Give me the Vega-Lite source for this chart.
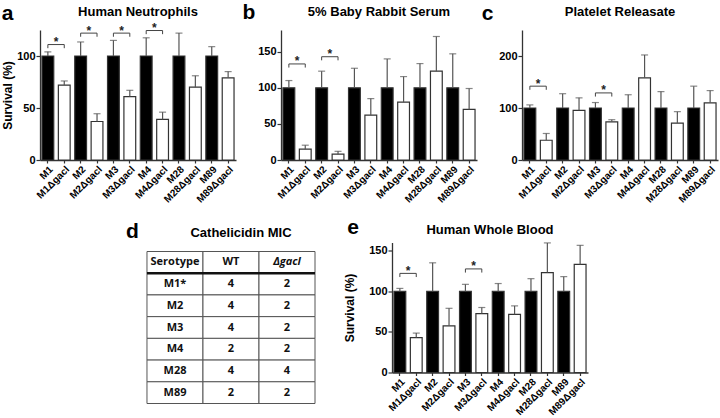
{
  "$schema": "https://vega.github.io/schema/vega-lite/v6.json",
  "background": "white",
  "padding": {"left": 1, "top": 1, "right": 2, "bottom": 2},
  "spacing": 10.5,
  "config": {
    "font": "Liberation Sans",
    "view": {"stroke": null},
    "axis": {"domainColor": "#333", "tickColor": "#333", "labelColor": "#000", "labelFont": "Liberation Sans", "labelFontWeight": "bold", "grid": false, "titleFont": "Liberation Sans", "titleFontWeight": "bold", "titleColor": "#000", "domainWidth": 1.3, "tickWidth": 1.2},
    "axisY": {"labelFontSize": 11, "tickSize": 4, "labelPadding": 1, "titleFontSize": 12, "titlePadding": 2},
    "axisX": {"labelFontSize": 10, "labelAngle": -45, "tickSize": 3, "labelPadding": 1, "titleFontSize": 21, "titleAngle": 0, "titleBaseline": "middle", "titleAlign": "center"},
    "title": {"font": "Liberation Sans", "fontSize": 13, "fontWeight": "bold", "color": "#000", "frame": "group", "anchor": "middle", "baseline": "middle"}
  },
  "datasets": {
    "a": [
      {"strain": "M1", "group": "WT", "mean": 100, "upper": 104},
      {"strain": "M1Δgacl", "group": "gacl", "mean": 72, "upper": 76},
      {"strain": "M2", "group": "WT", "mean": 100, "upper": 113.5},
      {"strain": "M2Δgacl", "group": "gacl", "mean": 37, "upper": 44.5},
      {"strain": "M3", "group": "WT", "mean": 100, "upper": 115},
      {"strain": "M3Δgacl", "group": "gacl", "mean": 61, "upper": 67},
      {"strain": "M4", "group": "WT", "mean": 100, "upper": 117.5},
      {"strain": "M4Δgacl", "group": "gacl", "mean": 39, "upper": 46},
      {"strain": "M28", "group": "WT", "mean": 100, "upper": 122},
      {"strain": "M28Δgacl", "group": "gacl", "mean": 70, "upper": 81},
      {"strain": "M89", "group": "WT", "mean": 100, "upper": 109},
      {"strain": "M89Δgacl", "group": "gacl", "mean": 79, "upper": 85}
    ],
    "b": [
      {"strain": "M1", "group": "WT", "mean": 100, "upper": 110},
      {"strain": "M1Δgacl", "group": "gacl", "mean": 15, "upper": 20.5},
      {"strain": "M2", "group": "WT", "mean": 100, "upper": 123},
      {"strain": "M2Δgacl", "group": "gacl", "mean": 8, "upper": 12},
      {"strain": "M3", "group": "WT", "mean": 100, "upper": 127},
      {"strain": "M3Δgacl", "group": "gacl", "mean": 62, "upper": 85},
      {"strain": "M4", "group": "WT", "mean": 100, "upper": 140},
      {"strain": "M4Δgacl", "group": "gacl", "mean": 80, "upper": 115.5},
      {"strain": "M28", "group": "WT", "mean": 100, "upper": 133.5},
      {"strain": "M28Δgacl", "group": "gacl", "mean": 123, "upper": 171},
      {"strain": "M89", "group": "WT", "mean": 100, "upper": 147},
      {"strain": "M89Δgacl", "group": "gacl", "mean": 70, "upper": 99}
    ],
    "c": [
      {"strain": "M1", "group": "WT", "mean": 100, "upper": 106},
      {"strain": "M1Δgacl", "group": "gacl", "mean": 38, "upper": 51},
      {"strain": "M2", "group": "WT", "mean": 100, "upper": 127.5},
      {"strain": "M2Δgacl", "group": "gacl", "mean": 95.5, "upper": 119.5},
      {"strain": "M3", "group": "WT", "mean": 100, "upper": 110.5},
      {"strain": "M3Δgacl", "group": "gacl", "mean": 73.5, "upper": 77.5},
      {"strain": "M4", "group": "WT", "mean": 100, "upper": 125.5},
      {"strain": "M4Δgacl", "group": "gacl", "mean": 158, "upper": 202},
      {"strain": "M28", "group": "WT", "mean": 100, "upper": 131.5},
      {"strain": "M28Δgacl", "group": "gacl", "mean": 71, "upper": 93},
      {"strain": "M89", "group": "WT", "mean": 100, "upper": 142},
      {"strain": "M89Δgacl", "group": "gacl", "mean": 110, "upper": 133.5}
    ],
    "e": [
      {"strain": "M1", "group": "WT", "mean": 100, "upper": 103.5},
      {"strain": "M1Δgacl", "group": "gacl", "mean": 43, "upper": 48.5},
      {"strain": "M2", "group": "WT", "mean": 100, "upper": 135},
      {"strain": "M2Δgacl", "group": "gacl", "mean": 57.5, "upper": 79},
      {"strain": "M3", "group": "WT", "mean": 100, "upper": 108.5},
      {"strain": "M3Δgacl", "group": "gacl", "mean": 72.5, "upper": 80},
      {"strain": "M4", "group": "WT", "mean": 100, "upper": 109.5},
      {"strain": "M4Δgacl", "group": "gacl", "mean": 71.5, "upper": 82},
      {"strain": "M28", "group": "WT", "mean": 100, "upper": 115.5},
      {"strain": "M28Δgacl", "group": "gacl", "mean": 123, "upper": 159.5},
      {"strain": "M89", "group": "WT", "mean": 100, "upper": 118},
      {"strain": "M89Δgacl", "group": "gacl", "mean": 133, "upper": 156.5}
    ],
    "sa": [
      {"from": "M1", "to": "M1Δgacl", "y": 111, "tick": 107.5},
      {"from": "M2", "to": "M2Δgacl", "y": 122, "tick": 118.5},
      {"from": "M3", "to": "M3Δgacl", "y": 122, "tick": 118.5},
      {"from": "M4", "to": "M4Δgacl", "y": 124.5, "tick": 121}
    ],
    "sb": [
      {"from": "M1", "to": "M1Δgacl", "y": 133, "tick": 128},
      {"from": "M2", "to": "M2Δgacl", "y": 143, "tick": 138}
    ],
    "sc": [
      {"from": "M1", "to": "M1Δgacl", "y": 142, "tick": 135},
      {"from": "M3", "to": "M3Δgacl", "y": 129, "tick": 122}
    ],
    "se": [
      {"from": "M1", "to": "M1Δgacl", "y": 122, "tick": 117.5},
      {"from": "M3", "to": "M3Δgacl", "y": 127.5, "tick": 123}
    ],
    "mic": [
      {"row": "Serotype", "col": "Serotype", "label": "Serotype"},
      {"row": "Serotype", "col": "WT", "label": "WT"},
      {"row": "Serotype", "col": "Δgacl", "label": "Δgacl"},
      {"row": "M1*", "col": "Serotype", "label": "M1*"},
      {"row": "M1*", "col": "WT", "label": "4"},
      {"row": "M1*", "col": "Δgacl", "label": "2"},
      {"row": "M2", "col": "Serotype", "label": "M2"},
      {"row": "M2", "col": "WT", "label": "4"},
      {"row": "M2", "col": "Δgacl", "label": "2"},
      {"row": "M3", "col": "Serotype", "label": "M3"},
      {"row": "M3", "col": "WT", "label": "4"},
      {"row": "M3", "col": "Δgacl", "label": "2"},
      {"row": "M4", "col": "Serotype", "label": "M4"},
      {"row": "M4", "col": "WT", "label": "2"},
      {"row": "M4", "col": "Δgacl", "label": "2"},
      {"row": "M28", "col": "Serotype", "label": "M28"},
      {"row": "M28", "col": "WT", "label": "4"},
      {"row": "M28", "col": "Δgacl", "label": "4"},
      {"row": "M89", "col": "Serotype", "label": "M89"},
      {"row": "M89", "col": "WT", "label": "2"},
      {"row": "M89", "col": "Δgacl", "label": "2"}
    ]
  },
  "vconcat": [
    {
      "bounds": "flush",
      "spacing": 45,
      "hconcat": [
        {
          "width": 196, "height": 130,
          "title": {"text": "Human Neutrophils", "offset": -16.5},
          "layer": [
            {"data": {"name": "a"}, "mark": {"type": "bar", "stroke": "#333", "strokeWidth": 1.2},
             "encoding": {
               "x": {"field": "strain", "type": "nominal", "scale": {"domain": ["M1","M1Δgacl","M2","M2Δgacl","M3","M3Δgacl","M4","M4Δgacl","M28","M28Δgacl","M89","M89Δgacl"], "paddingInner": 0.28, "paddingOuter": 0.12}, "axis": {"title": "a", "titleX": -33, "titleY": -147}},
               "y": {"field": "mean", "type": "quantitative", "scale": {"domain": [0, 125], "nice": false}, "axis": {"values": [0, 50, 100], "title": "Survival (%)", "titlePadding": 2}},
               "fill": {"field": "group", "type": "nominal", "scale": {"domain": ["WT", "gacl"], "range": ["#000000", "#ffffff"]}, "legend": null}}},
            {"data": {"name": "a"}, "mark": {"type": "rule", "color": "#555", "strokeWidth": 1.2},
             "encoding": {"x": {"field": "strain", "type": "nominal"}, "y": {"field": "mean", "type": "quantitative"}, "y2": {"field": "upper"}}},
            {"data": {"name": "a"}, "mark": {"type": "tick", "color": "#555", "thickness": 1.2, "size": 7, "orient": "horizontal"},
             "encoding": {"x": {"field": "strain", "type": "nominal"}, "y": {"field": "upper", "type": "quantitative"}}},
            {"data": {"name": "sa"}, "mark": {"type": "rule", "color": "#444", "strokeWidth": 1},
             "encoding": {"x": {"field": "from", "type": "nominal"}, "x2": {"field": "to"}, "y": {"field": "y", "type": "quantitative"}}},
            {"data": {"name": "sa"}, "mark": {"type": "rule", "color": "#444", "strokeWidth": 1},
             "encoding": {"x": {"field": "from", "type": "nominal"}, "y": {"field": "y", "type": "quantitative"}, "y2": {"field": "tick"}}},
            {"data": {"name": "sa"}, "mark": {"type": "rule", "color": "#444", "strokeWidth": 1},
             "encoding": {"x": {"field": "to", "type": "nominal"}, "y": {"field": "y", "type": "quantitative"}, "y2": {"field": "tick"}}},
            {"data": {"name": "sa"}, "mark": {"type": "text", "text": "*", "fontSize": 12, "fontWeight": "bold", "baseline": "alphabetic", "dy": 1.5, "color": "#222"},
             "encoding": {"x": {"field": "from", "type": "nominal", "bandPosition": 1.194}, "y": {"field": "y", "type": "quantitative"}}}
          ]
        },
        {
          "width": 196, "height": 130,
          "title": {"text": "5% Baby Rabbit Serum", "offset": -17.5},
          "layer": [
            {"data": {"name": "b"}, "mark": {"type": "bar", "stroke": "#333", "strokeWidth": 1.2},
             "encoding": {
               "x": {"field": "strain", "type": "nominal", "scale": {"domain": ["M1","M1Δgacl","M2","M2Δgacl","M3","M3Δgacl","M4","M4Δgacl","M28","M28Δgacl","M89","M89Δgacl"], "paddingInner": 0.28, "paddingOuter": 0.12}, "axis": {"title": "b", "titleX": -32.5, "titleY": -148}},
               "y": {"field": "mean", "type": "quantitative", "scale": {"domain": [0, 180], "nice": false}, "axis": {"values": [0, 50, 100, 150], "title": null}},
               "fill": {"field": "group", "type": "nominal", "scale": {"domain": ["WT", "gacl"], "range": ["#000000", "#ffffff"]}, "legend": null}}},
            {"data": {"name": "b"}, "mark": {"type": "rule", "color": "#555", "strokeWidth": 1.2},
             "encoding": {"x": {"field": "strain", "type": "nominal"}, "y": {"field": "mean", "type": "quantitative"}, "y2": {"field": "upper"}}},
            {"data": {"name": "b"}, "mark": {"type": "tick", "color": "#555", "thickness": 1.2, "size": 7, "orient": "horizontal"},
             "encoding": {"x": {"field": "strain", "type": "nominal"}, "y": {"field": "upper", "type": "quantitative"}}},
            {"data": {"name": "sb"}, "mark": {"type": "rule", "color": "#444", "strokeWidth": 1},
             "encoding": {"x": {"field": "from", "type": "nominal"}, "x2": {"field": "to"}, "y": {"field": "y", "type": "quantitative"}}},
            {"data": {"name": "sb"}, "mark": {"type": "rule", "color": "#444", "strokeWidth": 1},
             "encoding": {"x": {"field": "from", "type": "nominal"}, "y": {"field": "y", "type": "quantitative"}, "y2": {"field": "tick"}}},
            {"data": {"name": "sb"}, "mark": {"type": "rule", "color": "#444", "strokeWidth": 1},
             "encoding": {"x": {"field": "to", "type": "nominal"}, "y": {"field": "y", "type": "quantitative"}, "y2": {"field": "tick"}}},
            {"data": {"name": "sb"}, "mark": {"type": "text", "text": "*", "fontSize": 12, "fontWeight": "bold", "baseline": "alphabetic", "dy": 1.5, "color": "#222"},
             "encoding": {"x": {"field": "from", "type": "nominal", "bandPosition": 1.194}, "y": {"field": "y", "type": "quantitative"}}}
          ]
        },
        {
          "width": 196, "height": 130,
          "title": {"text": "Platelet Releasate", "offset": -16.5},
          "layer": [
            {"data": {"name": "c"}, "mark": {"type": "bar", "stroke": "#333", "strokeWidth": 1.2},
             "encoding": {
               "x": {"field": "strain", "type": "nominal", "scale": {"domain": ["M1","M1Δgacl","M2","M2Δgacl","M3","M3Δgacl","M4","M4Δgacl","M28","M28Δgacl","M89","M89Δgacl"], "paddingInner": 0.28, "paddingOuter": 0.12}, "axis": {"title": "c", "titleX": -35, "titleY": -147}},
               "y": {"field": "mean", "type": "quantitative", "scale": {"domain": [0, 250], "nice": false}, "axis": {"values": [0, 50, 100, 150, 200, 250], "title": null}},
               "fill": {"field": "group", "type": "nominal", "scale": {"domain": ["WT", "gacl"], "range": ["#000000", "#ffffff"]}, "legend": null}}},
            {"data": {"name": "c"}, "mark": {"type": "rule", "color": "#555", "strokeWidth": 1.2},
             "encoding": {"x": {"field": "strain", "type": "nominal"}, "y": {"field": "mean", "type": "quantitative"}, "y2": {"field": "upper"}}},
            {"data": {"name": "c"}, "mark": {"type": "tick", "color": "#555", "thickness": 1.2, "size": 7, "orient": "horizontal"},
             "encoding": {"x": {"field": "strain", "type": "nominal"}, "y": {"field": "upper", "type": "quantitative"}}},
            {"data": {"name": "sc"}, "mark": {"type": "rule", "color": "#444", "strokeWidth": 1},
             "encoding": {"x": {"field": "from", "type": "nominal"}, "x2": {"field": "to"}, "y": {"field": "y", "type": "quantitative"}}},
            {"data": {"name": "sc"}, "mark": {"type": "rule", "color": "#444", "strokeWidth": 1},
             "encoding": {"x": {"field": "from", "type": "nominal"}, "y": {"field": "y", "type": "quantitative"}, "y2": {"field": "tick"}}},
            {"data": {"name": "sc"}, "mark": {"type": "rule", "color": "#444", "strokeWidth": 1},
             "encoding": {"x": {"field": "to", "type": "nominal"}, "y": {"field": "y", "type": "quantitative"}, "y2": {"field": "tick"}}},
            {"data": {"name": "sc"}, "mark": {"type": "text", "text": "*", "fontSize": 12, "fontWeight": "bold", "baseline": "alphabetic", "dy": 1.5, "color": "#222"},
             "encoding": {"x": {"field": "from", "type": "nominal", "bandPosition": 1.194}, "y": {"field": "y", "type": "quantitative"}}}
          ]
        }
      ]
    },
    {
      "bounds": "flush",
      "spacing": 77,
      "hconcat": [
        {
          "width": 275, "height": 161,
          "data": {"name": "mic"},
          "title": {"text": "Cathelicidin MIC", "offset": -19.5, "dx": 63.5},
          "encoding": {
            "x": {"field": "col", "type": "nominal", "scale": {"domain": ["Serotype", "WT", "Δgacl"], "paddingInner": 0, "paddingOuter": 0.955, "align": 1}, "axis": {"labels": false, "ticks": false, "domain": false, "title": "d", "titleX": 92, "titleY": -172}},
            "y": {"field": "row", "type": "nominal", "scale": {"domain": ["Serotype", "M1*", "M2", "M3", "M4", "M28", "M89"], "paddingInner": 0, "paddingOuter": 0.2075, "align": 1}, "axis": null}
          },
          "layer": [
            {"mark": {"type": "rect", "fill": "#ffffff", "stroke": "#555", "strokeWidth": 1}},
            {"transform": [{"filter": "datum.row === 'Serotype'"}],
             "mark": {"type": "rule", "color": "#111", "strokeWidth": 2.5},
             "encoding": {"x": {"field": "col", "type": "nominal", "bandPosition": 0}, "x2": {"field": "col", "bandPosition": 1}, "y": {"field": "row", "type": "nominal", "bandPosition": 1}}},
            {"transform": [{"filter": "datum.label !== 'Δgacl'"}],
             "mark": {"type": "text", "font": "Open Sans", "fontWeight": "bold", "fontSize": 11, "color": "#111"},
             "encoding": {"text": {"field": "label"}}},
            {"transform": [{"filter": "datum.label === 'Δgacl'"}],
             "mark": {"type": "text", "font": "Open Sans", "fontWeight": "bold", "fontStyle": "italic", "fontSize": 11, "color": "#111"},
             "encoding": {"text": {"field": "label"}}}
          ]
        },
        {
          "width": 196, "height": 130,
          "title": {"text": "Human Whole Blood", "offset": -20.5},
          "layer": [
            {"data": {"name": "e"}, "mark": {"type": "bar", "stroke": "#333", "strokeWidth": 1.2},
             "encoding": {
               "x": {"field": "strain", "type": "nominal", "scale": {"domain": ["M1","M1Δgacl","M2","M2Δgacl","M3","M3Δgacl","M4","M4Δgacl","M28","M28Δgacl","M89","M89Δgacl"], "paddingInner": 0.28, "paddingOuter": 0.12}, "axis": {"title": "e", "titleX": -39.5, "titleY": -145.5}},
               "y": {"field": "mean", "type": "quantitative", "scale": {"domain": [0, 160], "nice": false}, "axis": {"values": [0, 50, 100, 150], "title": "Survival (%)", "titlePadding": 12}},
               "fill": {"field": "group", "type": "nominal", "scale": {"domain": ["WT", "gacl"], "range": ["#000000", "#ffffff"]}, "legend": null}}},
            {"data": {"name": "e"}, "mark": {"type": "rule", "color": "#555", "strokeWidth": 1.2},
             "encoding": {"x": {"field": "strain", "type": "nominal"}, "y": {"field": "mean", "type": "quantitative"}, "y2": {"field": "upper"}}},
            {"data": {"name": "e"}, "mark": {"type": "tick", "color": "#555", "thickness": 1.2, "size": 7, "orient": "horizontal"},
             "encoding": {"x": {"field": "strain", "type": "nominal"}, "y": {"field": "upper", "type": "quantitative"}}},
            {"data": {"name": "se"}, "mark": {"type": "rule", "color": "#444", "strokeWidth": 1},
             "encoding": {"x": {"field": "from", "type": "nominal"}, "x2": {"field": "to"}, "y": {"field": "y", "type": "quantitative"}}},
            {"data": {"name": "se"}, "mark": {"type": "rule", "color": "#444", "strokeWidth": 1},
             "encoding": {"x": {"field": "from", "type": "nominal"}, "y": {"field": "y", "type": "quantitative"}, "y2": {"field": "tick"}}},
            {"data": {"name": "se"}, "mark": {"type": "rule", "color": "#444", "strokeWidth": 1},
             "encoding": {"x": {"field": "to", "type": "nominal"}, "y": {"field": "y", "type": "quantitative"}, "y2": {"field": "tick"}}},
            {"data": {"name": "se"}, "mark": {"type": "text", "text": "*", "fontSize": 12, "fontWeight": "bold", "baseline": "alphabetic", "dy": 1.5, "color": "#222"},
             "encoding": {"x": {"field": "from", "type": "nominal", "bandPosition": 1.194}, "y": {"field": "y", "type": "quantitative"}}}
          ]
        }
      ]
    }
  ]
}
